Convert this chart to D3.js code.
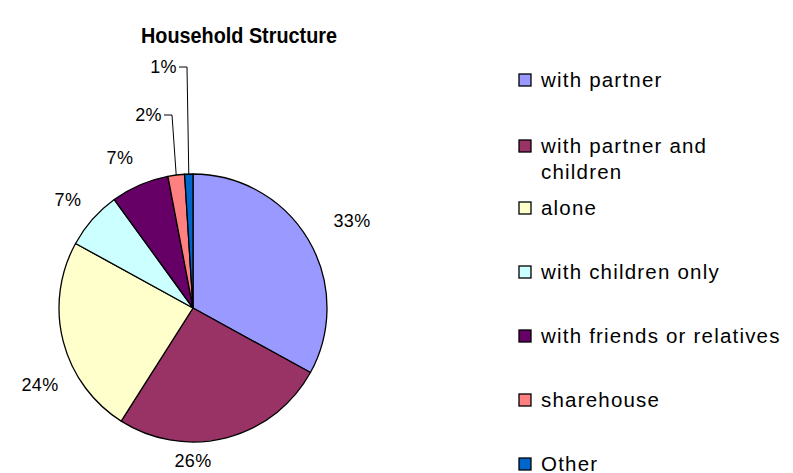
<!DOCTYPE html>
<html>
<head>
<meta charset="utf-8">
<script src="https://cdn.jsdelivr.net/npm/d3@7"></script>
<style>
  html, body { margin: 0; padding: 0; background: #fff; }
  svg { display: block; font-family: "Liberation Sans", Arial, sans-serif; }
</style>
</head>
<body>
<svg id="chart" width="793" height="473"></svg>
<script>
// Household structure shares (percent)
const categories = [
  "with partner",
  "with partner and children",
  "alone",
  "with children only",
  "with friends or relatives",
  "sharehouse",
  "Other"
];
const shares = [33, 26, 24, 7, 7, 2, 1];
const colors = ["#9999FF", "#993366", "#FFFFCC", "#CCFFFF", "#660066", "#FF8080", "#0066CC"];
// Legend text broken into lines
const legendLines = [
  ["with partner"],
  ["with partner and", "children"],
  ["alone"],
  ["with children only"],
  ["with friends or relatives"],
  ["sharehouse"],
  ["Other"]
];

// ---- layout ----
const cx = 193, cy = 308, R = 134;
// label centres relative to the pie centre; the two thin slices use leader lines
const labelOffsets = [
  { dx: 159, dy: -87 },
  { dx: 0, dy: 153 },
  { dx: -153, dy: 77 },
  { dx: -125, dy: -108 },
  { dx: -73, dy: -150 },
  { dx: -31, dy: -193, leader: true },
  { dx: -16, dy: -241, leader: true }
];

const svg = d3.select("#chart");

// Title
svg.append("text")
  .attr("x", 239).attr("y", 43)
  .attr("text-anchor", "middle")
  .attr("font-size", 22).attr("font-weight", "bold")
  .attr("textLength", 196).attr("lengthAdjust", "spacingAndGlyphs")
  .text("Household Structure");

const data = categories.map((c, i) => ({ name: c, value: shares[i], color: colors[i] }));

const pie = d3.pie().value(d => d.value).sort(null);
const arcs = pie(data);
const arc = d3.arc().innerRadius(0).outerRadius(R);

const g = svg.append("g").attr("transform", `translate(${cx},${cy})`);
g.selectAll("path.slice")
  .data(arcs)
  .join("path")
  .attr("class", "slice")
  .attr("d", arc)
  .attr("fill", d => d.data.color)
  .attr("stroke", "#000")
  .attr("stroke-width", 1.3)
  .attr("stroke-linejoin", "round");

// Percent labels
const fs = 18;
arcs.forEach((a, i) => {
  const mid = (a.startAngle + a.endAngle) / 2;
  const o = labelOffsets[i];
  const t = g.append("text")
    .attr("font-size", fs).attr("letter-spacing", 0.4).attr("fill", "#000")
    .attr("x", o.dx).attr("y", o.dy).attr("dy", "0.35em")
    .text(a.data.value + "%");
  if (o.leader) {
    t.attr("text-anchor", "end");
    const rimX = Math.sin(mid) * R, rimY = -Math.cos(mid) * R;
    g.append("polyline")
      .attr("points", `${o.dx + 2},${o.dy} ${o.dx + 10},${o.dy} ${rimX},${rimY}`)
      .attr("fill", "none").attr("stroke", "#000").attr("stroke-width", 1);
  } else {
    t.attr("text-anchor", "middle");
  }
});

// Legend
const lgX = 519, lgY0 = 80, lgStep = 64, sq = 12, lineH = 26;
const lg = svg.append("g");
legendLines.forEach((lines, i) => {
  const y = lgY0 + i * lgStep + (lines.length > 1 ? 2 : 0);
  lg.append("rect")
    .attr("x", lgX).attr("y", y - sq / 2)
    .attr("width", sq).attr("height", sq)
    .attr("fill", colors[i]).attr("stroke", "#000").attr("stroke-width", 1.3);
  lines.forEach((ln, j) => {
    lg.append("text")
      .attr("x", lgX + 22).attr("y", y + j * lineH)
      .attr("dy", "0.35em")
      .attr("font-size", 20.5)
      .attr("letter-spacing", 1.2)
      .text(ln);
  });
});
</script>
</body>
</html>
